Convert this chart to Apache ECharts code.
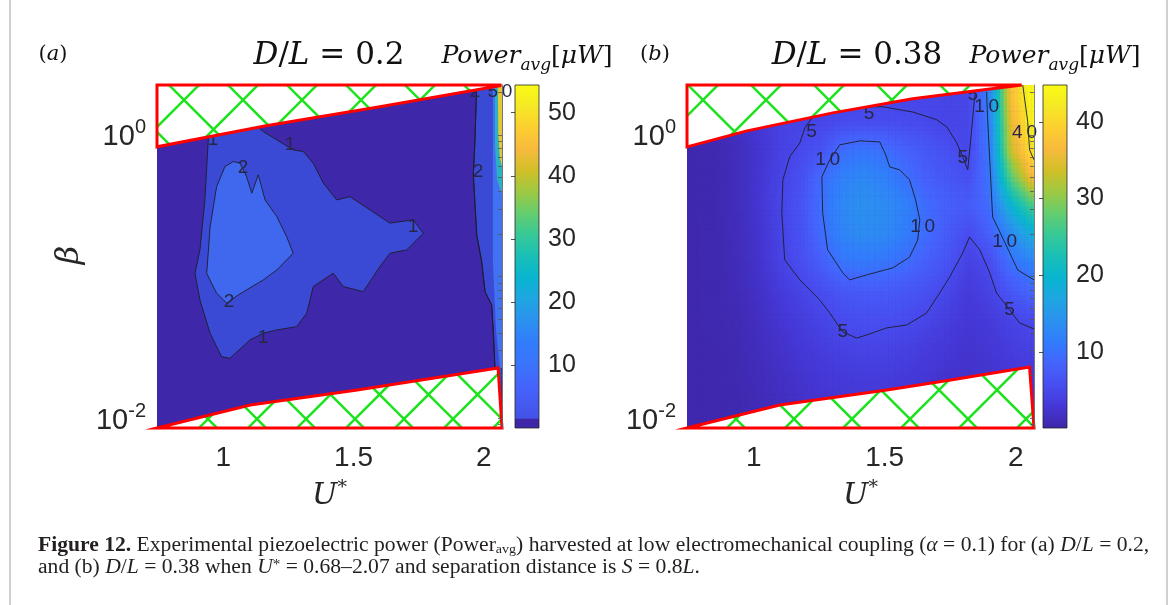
<!DOCTYPE html>
<html>
<head>
<meta charset="utf-8">
<script src="https://cdn.jsdelivr.net/npm/echarts@6.0.0/dist/echarts.min.js"></script>
<style>
html,body{margin:0;padding:0;background:#ffffff;}
#chart{width:1171px;height:605px;}
</style>
</head>
<body>
<div id="chart"></div>
<script>
// ================= DATA =================
const uAxisRange = [0.745, 2.07];
const betaAxisRange = [0.0085, 2.25];
const uTicks = [1, 1.5, 2];
const betaTickExponents = [-2, 0];
const betaMinorTicks = [0.009, 0.01, 0.02, 0.03, 0.04, 0.05, 0.06, 0.07, 0.08, 0.09, 0.1, 0.2, 0.3, 0.4, 0.5, 0.6, 0.7, 0.8, 0.9, 1, 2];

const cbarRangeA = [0, 54.4];
const cbarTicksA = [10, 20, 30, 40, 50];
const cbarRangeB = [0.1, 44.8];
const cbarTicksB = [10, 20, 30, 40];

// ---- Panel (a) D/L = 0.2 : filled-contour regions, points are [U*, beta] ----
const aRegionGe1 = [[0.942,0.922],[0.929,0.347],[0.910,0.154],[0.891,0.105],[0.910,0.0682],[0.949,0.0397],[0.993,0.0271],[1.025,0.0264],[1.102,0.0356],[1.153,0.0397],[1.205,0.0419],[1.281,0.0442],[1.320,0.0549],[1.345,0.0848],[1.422,0.1054],[1.460,0.0848],[1.537,0.0781],[1.601,0.1173],[1.640,0.146],[1.704,0.154],[1.768,0.202],[1.729,0.251],[1.640,0.238],[1.601,0.265],[1.486,0.366],[1.435,0.347],[1.384,0.456],[1.345,0.631],[1.307,0.762],[1.268,0.783],[1.205,0.922],[1.153,1.055],[1.128,1.158],[1.102,1.50],[0.941,1.32]];
const aRegionGe2 = [[1.038,0.648],[1.006,0.597],[0.974,0.431],[0.949,0.225],[0.936,0.105],[0.974,0.076],[1.013,0.0647],[1.057,0.074],[1.153,0.0945],[1.205,0.111],[1.268,0.146],[1.243,0.191],[1.205,0.265],[1.160,0.347],[1.134,0.522],[1.109,0.387],[1.089,0.507],[1.064,0.631]];
const aEdgeGe1 = [[1.973,2.25],[1.966,0.897],[1.960,0.522],[1.973,0.197],[1.992,0.127],[2.005,0.0781],[2.030,0.0629],[2.036,0.0431],[2.043,0.0226],[2.047,0.0085],[2.07,0.0085],[2.07,2.25]];
const aEdgeGe5 = [[2.035,2.25],[2.035,0.522],[2.035,0.127],[2.047,0.042],[2.062,0.0226],[2.07,0.0226],[2.07,2.25]];
const aEdgeGe25 = [[2.043,2.25],[2.043,0.85],[2.051,0.481],[2.07,0.38],[2.07,2.25]];
const aEdgeGe45 = [[2.054,2.25],[2.056,1.0],[2.062,0.68],[2.07,0.6],[2.07,2.25]];
const aRegionLevels = [1, 2, 1, 5, 25, 45];
const aContourLabels = [[0.960,0.922,'1'],[1.256,0.850,'1'],[1.728,0.224,'1'],[1.152,0.0367,'1'],[1.075,0.585,'2'],[1.022,0.066,'2'],[1.978,0.548,'2'],[1.966,2.01,'2'],[2.062,2.01,'50']];

// Excluded (hatched) zones
const aExclUpper = [[0.745,2.25],[2.062,2.25],[2.062,2.22],[1.601,1.578],[1.164,1.158],[0.745,0.823]];
const aExclLower = [[0.745,0.0085],[1.103,0.01236],[1.514,0.01578],[1.760,0.01857],[2.055,0.02255],[2.07,0.0085]];
const bExclUpper = [[0.745,2.25],[2.023,2.25],[1.607,1.80],[1.302,1.43],[0.974,1.067],[0.745,0.823]];
const bExclLower = [[0.745,0.0085],[1.099,0.01236],[1.508,0.01578],[1.752,0.01857],[2.053,0.02293],[2.07,0.0085]];

// ---- Panel (b) D/L = 0.38 : power grid (rows = beta, top to bottom) ----
const bU = [0.78,0.86,0.94,1.02,1.10,1.18,1.26,1.34,1.42,1.50,1.58,1.66,1.74,1.82,1.90,1.98,2.06];
const bBeta = [2.0,1.26,0.794,0.501,0.316,0.2,0.126,0.0794,0.0501,0.0316,0.02,0.0126,0.00794];
const bPower = [
  [3.6,3.8,4.0,4.2,4.4,4.5,4.6,4.7,4.8,4.8,4.8,4.8,4.7,4.9,12,37,44.5],
  [0.7,1.1,2.0,3.1,4.2,4.6,4.8,5.4,5.6,5.6,5.5,5.1,4.6,4.8,11.5,35,43.5],
  [0.5,0.7,1.4,2.6,4.1,5.2,6.5,9.6,10.4,9.8,8.2,7.0,6.0,4.8,11,33,41.5],
  [0.5,0.7,1.4,2.7,4.5,6.0,9.5,12,13,12,10,8,7,6,10.5,27,36],
  [0.5,0.7,1.4,2.7,4.6,6.5,10,13,14,13.5,12,9.5,8,7.5,9.5,19,26],
  [0.5,0.6,1.3,2.5,4.5,6.3,9.5,12.5,13.5,13,11.5,9.5,7.5,5.5,8,13,18],
  [0.5,0.6,1.2,2.3,4.2,5.8,8,10.5,11,10.5,9.5,8,6.5,4.2,5.5,10,12],
  [0.5,0.6,1.1,2.0,3.4,4.6,5.8,7,7.5,7.5,7,6.2,4.9,3.3,4.4,7,9],
  [0.5,0.6,0.9,1.7,2.7,3.7,4.7,5.5,6,6,5.6,4.8,3.8,2.9,3.4,4.6,5.3],
  [0.5,0.5,0.8,1.4,2.2,3.0,3.7,4.3,4.6,4.5,4.2,3.6,3.0,2.5,2.9,3.7,4.2],
  [0.5,0.5,0.7,1.2,1.8,2.5,3.0,3.4,3.6,3.6,3.3,2.9,2.5,2.2,2.5,3.0,3.3],
  [0.5,0.5,0.6,1.0,1.5,2.1,2.5,2.8,3.0,3.0,2.8,2.5,2.2,2.0,2.2,2.6,2.9],
  [0.5,0.5,0.6,0.9,1.3,1.7,2.0,2.2,2.4,2.4,2.2,2.0,1.8,1.7,1.8,2.1,2.3]
];
const bContour5 = [[1.844,1.92],[1.832,1.085],[1.817,0.566],[1.798,0.70],[1.775,0.878],[1.737,1.14],[1.698,1.28],[1.607,1.45],[1.492,1.58],[1.405,1.58],[1.317,1.45],[1.225,1.34],[1.195,1.12],[1.176,0.878],[1.137,0.70],[1.111,0.481],[1.107,0.281],[1.118,0.131],[1.176,0.0945],[1.252,0.0682],[1.290,0.0552],[1.340,0.0405],[1.393,0.0367],[1.431,0.0386],[1.508,0.0433],[1.584,0.0454],[1.660,0.0552],[1.710,0.0764],[1.748,0.0991],[1.798,0.1466],[1.824,0.190],[1.863,0.154],[1.901,0.106],[1.927,0.0764],[1.977,0.058],[2.015,0.0469],[2.07,0.0426]];
const bContour10Inner = [[1.290,0.666],[1.328,0.850],[1.405,0.907],[1.481,0.892],[1.504,0.722],[1.519,0.594],[1.557,0.566],[1.595,0.481],[1.618,0.347],[1.634,0.251],[1.626,0.181],[1.595,0.137],[1.531,0.115],[1.431,0.1025],[1.366,0.0945],[1.340,0.106],[1.282,0.154],[1.263,0.281],[1.260,0.505],[1.290,0.666]];
const bContour10Right = [[1.889,2.01],[1.893,1.28],[1.901,0.666],[1.912,0.263],[1.958,0.175],[2.008,0.111],[2.07,0.0945]];
const bContour40 = [[2.027,2.25],[2.046,1.24],[2.053,0.783],[2.07,0.666]];
const bContourLabels = [[1.44,1.41,'5'],[1.221,1.05,'5'],[1.282,0.666,'10'],[1.798,0.687,'5'],[1.836,1.92,'5'],[1.889,1.58,'10'],[2.034,1.03,'40'],[1.645,0.224,'10'],[1.958,0.175,'10'],[1.340,0.0405,'5'],[1.977,0.058,'5']];

// ================= STYLE =================
const parula = ['#3e26a8','#4537d5','#484df0','#4563fd','#327cfc','#2b91ef','#20a5e3','#08b5d0','#19bfb6','#37c897','#64cd6f','#9dc943','#d1bf27','#f8ba3d','#fccf30','#f5e924','#f9fb15'];
const aLevelColor = {1:'#3b4ad5', 2:'#4068ee', 5:'#4272f2', 25:'#2bb0c4', 45:'#e2c834'};
const AX = '#262626';
const SANS = 'Liberation Sans';
const SERIF = 'Liberation Serif';
const TSERIF = 'DejaVu Serif';

function hatchPattern(T, cx, cy) {
  const c = document.createElement('canvas');
  c.width = T; c.height = T;
  const g = c.getContext('2d');
  g.fillStyle = '#ffffff'; g.fillRect(0, 0, T, T);
  g.strokeStyle = '#1ee21e'; g.lineWidth = 2.6;
  const ox = ((cx % T) + T) % T, oy = ((cy % T) + T) % T;
  for (let k = -3; k <= 3; k++) {
    g.beginPath(); g.moveTo(-2*T, -2*T - ox + oy + k*T); g.lineTo(3*T, 3*T - ox + oy + k*T); g.stroke();
    g.beginPath(); g.moveTo(-2*T, 2*T + ox + oy + k*T); g.lineTo(3*T, -3*T + ox + oy + k*T); g.stroke();
  }
  return {image: c, repeat: 'repeat'};
}

function polySeries(name, xi, yi, polys, styleFn, z) {
  return {
    type: 'custom', name: name, xAxisIndex: xi, yAxisIndex: yi, z: z, silent: true,
    data: polys.map((p, i) => [p[0][0], p[0][1], i]),
    renderItem: function (params, api) {
      const i = api.value(2);
      const pts = polys[i].map(p => api.coord(p));
      return {type: 'polygon', shape: {points: pts}, style: styleFn(i)};
    }
  };
}

function lineSeries(pts, xi, yi) {
  return {type: 'line', xAxisIndex: xi, yAxisIndex: yi, data: pts, symbol: 'none', showSymbol: false, silent: true, z: 5,
    lineStyle: {color: '#1d1d2b', width: 0.9}, clip: true};
}

function labelSeries(lbls, xi, yi, size) {
  return {type: 'scatter', xAxisIndex: xi, yAxisIndex: yi, data: lbls, symbolSize: 0, silent: true, z: 6,
    itemStyle: {color: 'rgba(0,0,0,0)'}, clip: false,
    label: {show: true, position: 'inside', formatter: p => String(p.value[2]).split('').join('\u2009'),
      color: '#262645', opacity: 1, fontSize: size, fontFamily: SANS}};
}

function cbarSeries(xi, yi, range, stops) {
  return {type: 'custom', xAxisIndex: xi, yAxisIndex: yi, silent: true, z: 2,
    data: [[0, range[0], 1, range[1]]],
    renderItem: function (params, api) {
      const p0 = api.coord([api.value(0), api.value(1)]);
      const p1 = api.coord([api.value(2), api.value(3)]);
      return {type: 'rect', shape: {x: p0[0], y: p1[1], width: p1[0]-p0[0], height: p0[1]-p1[1]},
        style: {fill: new echarts.graphic.LinearGradient(0, 1, 0, 0, stops), stroke: AX, lineWidth: 0.8}};
    }};
}

const stopsB = parula.map((c, i) => ({offset: i/(parula.length-1), color: c}));
const stopsA = [{offset:0,color:'#3e26a8'},{offset:0.026,color:'#3e26a8'},{offset:0.03,color:'#4452e6'},{offset:0.12,color:'#4563fd'},{offset:0.19,color:'#3a74fa'}]
  .concat(parula.slice(4).map((c, i) => ({offset: (i+4)/(parula.length-1), color: c})));

function colorB(v) {
  const t = Math.max(0, Math.min(1, (v - cbarRangeB[0]) / (cbarRangeB[1] - cbarRangeB[0])));
  return echarts.color.lerp(t, parula);
}

const bCells = [];
bBeta.forEach((b, i) => bU.forEach((u, j) => bCells.push([u, b, bPower[i][j], i, j])));
const du = (bU[1] - bU[0]) / 2;
const bf = Math.sqrt(bBeta[0] / bBeta[1]);
const SUB = 6;
function pv(i, j) {
  i = Math.max(0, Math.min(bBeta.length - 1, i));
  j = Math.max(0, Math.min(bU.length - 1, j));
  return bPower[i][j];
}
function shadeAt(i, j, sx, sy) {
  const jn = sx >= 0 ? j + 1 : j - 1, ax = Math.abs(sx);
  const in_ = sy >= 0 ? i - 1 : i + 1, ay = Math.abs(sy);
  const r0 = pv(i, j) * (1 - ax) + pv(i, jn) * ax;
  const r1 = pv(in_, j) * (1 - ax) + pv(in_, jn) * ax;
  return r0 * (1 - ay) + r1 * ay;
}

function yLabelFmt(v) {
  const lv = Math.log10(v), e = Math.round(lv);
  return (Math.abs(lv - e) < 0.01 && betaTickExponents.indexOf(e) >= 0) ? '{b|10}{s|' + e + '}' : '';
}

function mainX(gi) {
  return {gridIndex: gi, type: 'value', min: uAxisRange[0], max: uAxisRange[1],
    axisLine: {show: false}, splitLine: {show: false},
    axisTick: {show: true, inside: true, length: 5, customValues: uTicks, lineStyle: {color: AX}},
    axisLabel: {customValues: uTicks, formatter: v => String(v), color: AX, fontSize: 28, fontFamily: SANS, margin: 16}};
}
function mainY(gi) {
  return {gridIndex: gi, type: 'log', logBase: 10, min: betaAxisRange[0], max: betaAxisRange[1],
    axisLine: {show: false}, splitLine: {show: false}, axisTick: {show: false},
    axisLabel: {formatter: yLabelFmt, margin: 11, color: AX, fontFamily: SANS,
      rich: {b: {fontSize: 29, fontFamily: SANS, color: AX, lineHeight: 34, verticalAlign: 'bottom'},
             s: {fontSize: 20, fontFamily: SANS, color: AX, lineHeight: 20, verticalAlign: 'top'}}}};
}
function boxY(gi) {
  return {gridIndex: gi, type: 'log', logBase: 10, min: betaAxisRange[0], max: betaAxisRange[1], position: 'right', z: 8,
    axisLine: {show: true, lineStyle: {color: '#6a6a6a', width: 0.8}}, splitLine: {show: false},
    axisTick: {show: true, inside: true, length: 4, customValues: betaMinorTicks, lineStyle: {color: '#555', width: 0.8}},
    axisLabel: {show: false}};
}
function cbarY(gi, range, ticks) {
  return {gridIndex: gi, type: 'value', min: range[0], max: range[1], position: 'right', z: 8,
    axisLine: {show: false}, splitLine: {show: false},
    axisTick: {show: true, inside: true, length: 4, customValues: ticks, lineStyle: {color: AX, width: 0.8}},
    axisLabel: {customValues: ticks, color: AX, fontSize: 25, fontFamily: SANS, margin: 9}};
}
function cbarX(gi) { return {gridIndex: gi, type: 'value', min: 0, max: 1, show: false}; }

const hatchAU = hatchPattern(59, 184, 100);
const hatchAL = hatchPattern(49, 208, 419);
const hatchBU = hatchPattern(63, 703, 100);
const hatchBL = hatchPattern(58, 736, 419);
const hatchStyle = pat => ({fill: pat, stroke: '#ff0000', lineWidth: 3, lineJoin: 'miter'});

const titleRich = (size) => ({n: {fontSize: size, fontFamily: TSERIF, fill: '#111'}, i: {fontSize: size, fontFamily: TSERIF, fontStyle: 'italic', fill: '#111'}});
const powerRich = {n: {fontSize: 25, fontFamily: TSERIF, fill: '#111', lineHeight: 32}, i: {fontSize: 25, fontFamily: TSERIF, fontStyle: 'italic', fill: '#111', lineHeight: 32},
  sub: {fontSize: 17, fontFamily: TSERIF, fontStyle: 'italic', fill: '#111', verticalAlign: 'bottom', lineHeight: 17, padding: [0, 0, -2, 0]}};
const capRich = {b: {fontSize: 20, fontFamily: SERIF, fontWeight: 'bold', fill: '#231f20'}, i: {fontSize: 20, fontFamily: SERIF, fontStyle: 'italic', fill: '#231f20'},
  sub: {fontSize: 13, fontFamily: SERIF, fill: '#231f20', verticalAlign: 'bottom', lineHeight: 13},
  sup: {fontSize: 14, fontFamily: SERIF, fill: '#231f20', verticalAlign: 'top', lineHeight: 14}};

const option = {
  animation: false,
  backgroundColor: '#ffffff',
  grid: [
    {left: 157, top: 85, width: 345, height: 343, show: true, backgroundColor: '#3e27a8', borderWidth: 0},
    {left: 515, top: 85, width: 24, height: 343, show: false},
    {left: 687, top: 85, width: 347, height: 343, show: true, backgroundColor: '#3e27a8', borderWidth: 0},
    {left: 1043, top: 85, width: 24, height: 343, show: false}
  ],
  xAxis: [mainX(0), cbarX(1), mainX(2), cbarX(3)],
  yAxis: [mainY(0), boxY(0), cbarY(1, cbarRangeA, cbarTicksA), mainY(2), boxY(2), cbarY(3, cbarRangeB, cbarTicksB)],
  series: [
    polySeries('a-regions', 0, 0, [aRegionGe1, aRegionGe2, aEdgeGe1, aEdgeGe5, aEdgeGe25, aEdgeGe45],
      i => ({fill: aLevelColor[aRegionLevels[i]], stroke: i < 3 ? '#1d1d2b' : null, lineWidth: 0.9}), 2),
    labelSeries(aContourLabels, 0, 0, 19),
    polySeries('a-excl', 0, 0, [aExclUpper, aExclLower], i => hatchStyle(i === 0 ? hatchAU : hatchAL), 7),
    cbarSeries(1, 2, cbarRangeA, stopsA),
    cbarSeries(3, 5, cbarRangeB, stopsB),
    {type: 'custom', xAxisIndex: 2, yAxisIndex: 3, z: 2, silent: true, data: bCells,
      renderItem: function (params, api) {
        const cs = params.coordSys;
        const u = api.value(0), b = api.value(1), i = api.value(3), j = api.value(4);
        const children = [];
        for (let a = 0; a < SUB; a++) {
          for (let c = 0; c < SUB; c++) {
            const fx0 = a / SUB - 0.5, fx1 = (a + 1) / SUB - 0.5;
            const fy0 = c / SUB - 0.5, fy1 = (c + 1) / SUB - 0.5;
            const p0 = api.coord([u + 2 * du * fx0, b * Math.pow(bf, 2 * fy0)]);
            const p1 = api.coord([u + 2 * du * fx1, b * Math.pow(bf, 2 * fy1)]);
            const x0 = Math.max(cs.x, Math.min(p0[0], p1[0])), x1 = Math.min(cs.x + cs.width, Math.max(p0[0], p1[0]));
            const y0 = Math.max(cs.y, Math.min(p0[1], p1[1])), y1 = Math.min(cs.y + cs.height, Math.max(p0[1], p1[1]));
            if (x1 <= x0 || y1 <= y0) continue;
            const v = shadeAt(i, j, (fx0 + fx1) / 2, (fy0 + fy1) / 2);
            children.push({type: 'rect', shape: {x: x0, y: y0, width: x1 - x0 + 0.5, height: y1 - y0 + 0.5}, style: {fill: colorB(v)}});
          }
        }
        return {type: 'group', children: children};
      }},
    lineSeries(bContour5, 2, 3), lineSeries(bContour10Inner, 2, 3), lineSeries(bContour10Right, 2, 3), lineSeries(bContour40, 2, 3),
    labelSeries(bContourLabels, 2, 3, 19),
    polySeries('b-excl', 2, 3, [bExclUpper, bExclLower], i => hatchStyle(i === 0 ? hatchBU : hatchBL), 7),
    lineSeries(aEdgeGe1.slice(0, 10), 0, 0)
  ],
  graphic: [
    {type: 'line', shape: {x1: 10, y1: 0, x2: 10, y2: 605}, style: {stroke: '#d0d0d0', lineWidth: 2}, silent: true},
    {type: 'line', shape: {x1: 1167, y1: 0, x2: 1167, y2: 605}, style: {stroke: '#d0d0d0', lineWidth: 2}, silent: true},
    {type: 'text', x: 53, y: 55, style: {text: '{n|(}{i|a}{n|)}', align: 'center', verticalAlign: 'middle', rich: titleRich(21)}},
    {type: 'text', x: 655, y: 55, style: {text: '{n|(}{i|b}{n|)}', align: 'center', verticalAlign: 'middle', rich: titleRich(21)}},
    {type: 'text', x: 329, y: 56, style: {text: '{i|D}{n|/}{i|L}{n| = 0.2}', align: 'center', verticalAlign: 'middle', rich: titleRich(31)}},
    {type: 'text', x: 857, y: 56, style: {text: '{i|D}{n|/}{i|L}{n| = 0.38}', align: 'center', verticalAlign: 'middle', rich: titleRich(31)}},
    {type: 'text', x: 527, y: 56, style: {text: '{i|Power}{sub|avg}{n|[}{i|μW}{n|]}', align: 'center', verticalAlign: 'middle', rich: powerRich}},
    {type: 'text', x: 1055, y: 56, style: {text: '{i|Power}{sub|avg}{n|[}{i|μW}{n|]}', align: 'center', verticalAlign: 'middle', rich: powerRich}},
    {type: 'text', x: 329.5, y: 496, style: {text: '{i|U}{s|*}', align: 'center', verticalAlign: 'middle',
      rich: {i: {fontSize: 30, fontFamily: TSERIF, fontStyle: 'italic', fill: '#262626', lineHeight: 34}, s: {fontSize: 19, fontFamily: TSERIF, fill: '#262626', verticalAlign: 'top', lineHeight: 19}}}},
    {type: 'text', x: 860.5, y: 496, style: {text: '{i|U}{s|*}', align: 'center', verticalAlign: 'middle',
      rich: {i: {fontSize: 30, fontFamily: TSERIF, fontStyle: 'italic', fill: '#262626', lineHeight: 34}, s: {fontSize: 19, fontFamily: TSERIF, fill: '#262626', verticalAlign: 'top', lineHeight: 19}}}},
    {type: 'text', x: 70, y: 255, rotation: Math.PI / 2, style: {text: 'β', align: 'center', verticalAlign: 'middle',
      fontSize: 32, fontFamily: TSERIF, fontStyle: 'italic', fill: '#262626'}},
    {type: 'text', x: 38, y: 546, scaleX: 1.08, style: {text: '{b|Figure 12.} Experimental piezoelectric power (Power{sub|avg}) harvested at low electromechanical coupling ({i|α} = 0.1) for (a) {i|D}/{i|L} = 0.2,',
      align: 'left', verticalAlign: 'middle', fontSize: 20, fontFamily: SERIF, fill: '#231f20', rich: capRich}},
    {type: 'text', x: 38, y: 568, scaleX: 1.08, style: {text: 'and (b) {i|D}/{i|L} = 0.38 when {i|U}{sup|*} = 0.68–2.07 and separation distance is {i|S} = 0.8{i|L}.',
      align: 'left', verticalAlign: 'middle', fontSize: 20, fontFamily: SERIF, fill: '#231f20', rich: capRich}}
  ]
};

const chart = echarts.init(document.getElementById('chart'), null, {renderer: 'canvas', width: 1171, height: 605});
chart.setOption(option);
</script>
</body>
</html>
